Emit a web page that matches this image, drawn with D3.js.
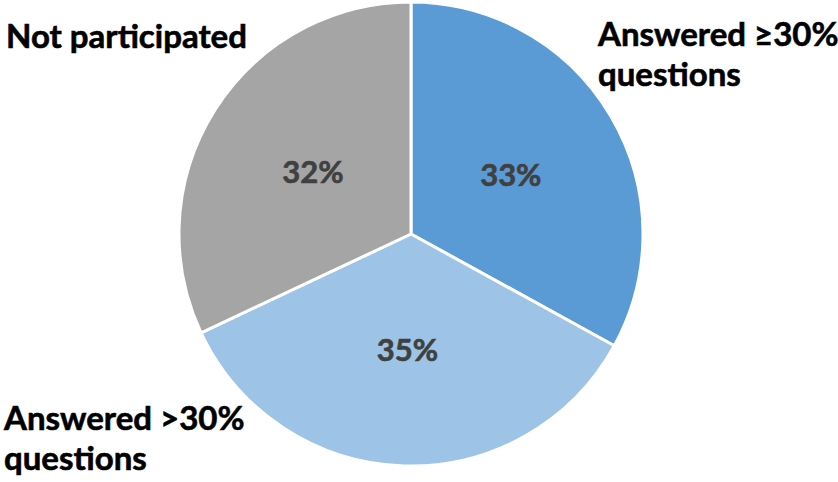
<!DOCTYPE html>
<html><head><meta charset="utf-8">
<script src="https://cdn.jsdelivr.net/npm/d3@7"></script>
<style>html,body{margin:0;padding:0;background:#fff;}</style>
</head><body>
<svg id="c" width="838" height="482"></svg>
<script>
const categories = ["Answered ≥30% questions", "Answered >30% questions", "Not participated"];
const values = [33, 35, 32];
const colors = ["#5B9BD5", "#9DC3E6", "#A5A5A5"];
const labelLines = [["Answered ≥30%", "questions"], ["Answered >30%", "questions"], ["Not participated"]];

const svg = d3.select("#c");
const cx = 411, cy = 234, r = 232;
const FONT = "Lato, 'Open Sans', sans-serif";
const g = svg.append("g").attr("transform", `translate(${cx},${cy})`);
const pie = d3.pie().sort(null).value(d => d)(values);
const arc = d3.arc().innerRadius(0).outerRadius(r);
g.selectAll("path").data(pie).join("path")
  .attr("d", arc).attr("fill", (d, i) => colors[i])
  .attr("stroke", "#fff").attr("stroke-width", 3).attr("stroke-linejoin", "round");

g.selectAll("text.pct").data(pie).join("text").attr("class", "pct")
  .attr("transform", d => { const c = arc.centroid(d); return `translate(${c[0]},${c[1]})`; })
  .attr("text-anchor", "middle").attr("dy", "0.36em")
  .attr("font-family", FONT).attr("font-weight", 700).attr("font-size", 31)
  .attr("fill", "#404040").attr("stroke", "#404040").attr("stroke-width", 0.6)
  .text(d => d.value + "%");

const pos = [[598, 46], [4, 430], [6, 48]];
labelLines.forEach((lines, i) => {
  const t = svg.append("text").attr("font-family", FONT).attr("font-weight", 700)
    .attr("font-size", 33).attr("fill", "#000").attr("stroke", "#000").attr("stroke-width", 0.6);
  lines.forEach((l, j) => {
    t.append("tspan").attr("x", pos[i][0]).attr("y", pos[i][1] + j * 40).text(l);
  });
});
</script>
</body></html>
